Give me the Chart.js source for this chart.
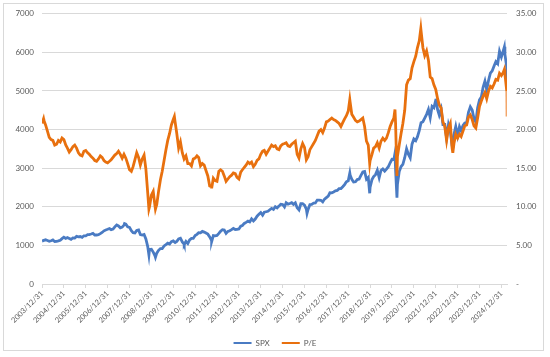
<!DOCTYPE html>
<html>
<head>
<meta charset="utf-8">
<script src="https://cdn.jsdelivr.net/npm/chart.js@4/dist/chart.umd.min.js"></script>
<style>
  html, body { margin: 0; padding: 0; background: #ffffff; }
  #wrap { position: relative; width: 550px; height: 357px; }
  #frame { position: absolute; left: 3px; top: 3px; width: 539px; height: 346px; border: 1px solid #d9d9d9; pointer-events: none; }
  canvas { position: absolute; left: 0; top: 0; }
</style>
</head>
<body>
<div id="wrap">
  <canvas id="c" width="550" height="357"></canvas>
  <div id="frame"></div>
</div>
<script>
// ---- Data (month-end values, Dec 2003 .. Mar 2025) ----
const firstMonth = [2003, 12];
const spxMonthly = [
  1112,
  1131,1145,1126,1107,1121,1141,1102,1104,1115,1130,1174,1212,
  1181,1204,1181,1157,1192,1191,1234,1220,1229,1207,1249,1248,
  1280,1281,1295,1311,1270,1270,1277,1304,1336,1378,1401,1418,
  1438,1407,1421,1482,1531,1503,1455,1474,1527,1549,1481,1468,
  1379,1331,1323,1386,1400,1280,1267,1283,1166,969,896,903,
  826,735,798,873,919,919,987,1021,1057,1036,1096,1115,
  1074,1104,1169,1187,1089,1031,1102,1049,1141,1183,1181,1258,
  1286,1327,1326,1364,1345,1321,1292,1219,1131,1253,1247,1258,
  1312,1366,1408,1398,1310,1362,1379,1407,1441,1412,1416,1426,
  1498,1515,1569,1598,1631,1606,1686,1633,1682,1757,1806,1848,
  1783,1859,1872,1884,1924,1960,1931,2003,1972,2018,2068,2059,
  1995,2105,2068,2086,2107,2063,2104,1972,1920,2079,2080,2044,
  1940,1932,2060,2065,2097,2099,2174,2171,2168,2126,2199,2239,
  2279,2364,2363,2384,2412,2423,2470,2472,2519,2575,2648,2674,
  2824,2714,2641,2648,2705,2718,2816,2902,2914,2712,2760,2507,
  2704,2784,2834,2946,2752,2942,2980,2926,2977,3038,3141,3231,
  3226,2954,2585,2912,3044,3100,3271,3500,3363,3270,3622,3756,
  3714,3811,3973,4181,4204,4298,4395,4523,4308,4605,4567,4766,
  4516,4374,4530,4132,4132,3785,4130,3955,3586,3872,4080,3840,
  4077,3970,4109,4169,4180,4450,4589,4508,4288,4194,4568,4770,
  4846,5096,5254,5036,5278,5460,5522,5648,5762,5705,6032,5882,
  6041,5955,5612
];
const peMonthly = [
  20.8,
  21.2,20.6,19.8,19.0,18.7,18.6,18.0,18.1,18.6,18.4,18.9,18.7,
  18.0,17.6,17.1,17.4,17.8,18.0,17.6,17.0,16.7,16.6,17.2,17.3,
  17.0,16.8,16.5,16.3,16.0,15.9,16.2,16.6,16.4,16.0,15.8,15.7,
  15.9,16.1,16.4,16.7,16.9,17.2,16.8,16.3,16.8,16.3,15.6,14.8,
  14.6,15.2,16.1,17.0,16.4,15.4,16.2,16.7,14.9,11.8,10.0,11.5,
  12.0,10.2,10.3,12.0,13.5,14.6,16.0,17.4,18.6,19.5,20.6,21.3,
  21.0,19.5,17.6,18.4,17.0,16.2,16.6,15.6,15.6,15.3,16.2,16.3,
  16.6,16.4,15.3,15.6,15.4,14.7,14.0,12.7,12.6,13.7,13.4,13.3,
  14.6,14.8,14.6,14.0,13.3,13.6,13.9,14.1,14.4,14.3,13.8,13.6,
  14.5,14.8,15.1,15.4,15.8,15.6,15.8,15.2,15.5,16.0,16.2,16.8,
  17.2,17.3,16.8,17.2,17.6,18.0,17.8,17.9,17.5,17.4,17.9,18.1,
  18.2,18.3,17.9,17.8,18.1,18.3,18.5,16.8,16.3,17.5,18.2,17.7,
  16.1,16.5,17.4,17.8,18.2,18.6,19.2,19.8,20.0,19.6,20.2,21.0,
  21.1,21.3,21.5,21.3,21.2,21.0,20.8,20.4,20.9,21.4,21.8,22.4,
  23.6,22.0,21.6,21.2,21.0,21.1,21.3,21.5,20.4,18.5,18.0,16.0,
  16.8,17.6,17.8,18.3,17.6,18.5,18.9,18.6,18.9,19.6,20.4,21.0,
  21.5,20.8,16.5,18.0,19.5,20.8,22.5,25.8,26.4,26.6,28.0,28.8,
  29.5,30.6,31.5,32.8,30.6,29.6,30.2,29.0,26.8,26.6,25.8,25.2,
  24.0,23.2,22.8,21.0,20.4,18.6,20.2,20.8,17.6,18.2,19.4,18.9,
  19.4,19.1,19.8,20.5,20.6,21.6,21.9,21.3,20.5,20.2,21.5,23.0,
  23.7,24.3,24.8,24.0,25.0,25.6,25.4,25.9,26.5,26.4,27.3,27.0,
  27.4,27.2,25.0
];
// intra-month extremes and the final observation
const spxExtremes = [
  ['2007-10-09',1565],['2008-11-20',752],['2009-03-09',690],['2010-07-02',1022],
  ['2011-10-03',1099],['2016-02-11',1829],['2018-01-26',2873],['2018-12-24',2351],
  ['2020-02-19',3386],['2020-03-23',2237],['2022-01-03',4797],['2022-10-12',3577],
  ['2025-02-19',6144],['2025-04-04',5074]
];
const peExtremes = [
  ['2004-01-26',21.4],['2008-11-20',9.7],['2009-03-09',9.7],['2010-01-19',21.7],
  ['2011-10-03',12.4],['2018-01-26',23.9],['2018-12-24',15.6],['2020-02-19',22.6],
  ['2020-03-23',14.0],['2021-04-26',33.1],['2022-10-12',17.0],['2025-02-19',27.8],
  ['2025-04-04',21.7]
];
const seriesNames = ['SPX', 'P/E'];
const leftTicks = { min: 0, max: 7000, step: 1000 };
const rightTicks = { min: 0, max: 35, step: 5 };

// ---- helpers ----
function decYear(y, m, d) {
  const start = Date.UTC(y, 0, 1);
  const end = Date.UTC(y + 1, 0, 1);
  return y + (Date.UTC(y, m - 1, d) - start + 86400000) / (end - start);
}
function parseDate(s) { const [y, m, d] = s.split('-').map(Number); return decYear(y, m, d); }
function monthEndX(i) {
  const idx = firstMonth[0] * 12 + (firstMonth[1] - 1) + i;
  const y = Math.floor(idx / 12), m = idx % 12 + 1;
  const d = new Date(Date.UTC(y, m, 0)).getUTCDate();
  return decYear(y, m, d);
}
function buildPoints(monthly, extremes) {
  const pts = monthly.map((v, i) => ({ x: monthEndX(i), y: v }));
  extremes.forEach(([s, v]) => pts.push({ x: parseDate(s), y: v }));
  pts.sort((a, b) => a.x - b.x);
  return pts;
}
const spxPts = buildPoints(spxMonthly, spxExtremes);
const pePts = buildPoints(peMonthly, peExtremes);
const xMin = spxPts[0].x;
const xMax = Math.max(spxPts[spxPts.length - 1].x, pePts[pePts.length - 1].x);

const BLUE = '#4A7BC3';
const ORANGE = '#E8700E';
const TXT = '#595959';
const GRID = '#d9d9d9';
const FONT = { family: 'Lato, "Open Sans", sans-serif', size: 8 };
const XFONT = { family: 'Lato, "Open Sans", sans-serif', size: 7.5 };

new Chart(document.getElementById('c'), {
  type: 'line',
  data: {
    datasets: [
      { label: seriesNames[0], data: spxPts, yAxisID: 'y', borderColor: BLUE, backgroundColor: BLUE,
        borderWidth: 2.8, pointRadius: 0, tension: 0, order: 1 },
      { label: seriesNames[1], data: pePts, yAxisID: 'y1', borderColor: ORANGE, backgroundColor: ORANGE,
        borderWidth: 2.8, pointRadius: 0, tension: 0, order: 0,
        segment: { borderColor: ctx => ctx.p1DataIndex === pePts.length - 1 ? '#F2A66B' : undefined } }
    ]
  },
  options: {
    responsive: false,
    animation: false,
    layout: { padding: { top: 13, bottom: 0, left: 0, right: 0 } },
    plugins: {
      tooltip: { enabled: false },
      legend: {
        position: 'bottom',
        labels: {
          color: TXT, font: FONT, boxWidth: 18, boxHeight: 2, padding: 12,
          sort: (a, b) => a.datasetIndex - b.datasetIndex,
          generateLabels: chart => Chart.defaults.plugins.legend.labels.generateLabels(chart)
            .map(it => Object.assign(it, { lineWidth: 0, fillStyle: it.strokeStyle }))
        }
      }
    },
    scales: {
      x: {
        type: 'linear', min: xMin, max: xMax,
        afterFit: s => { s.height = 43; },
        border: { display: true, color: GRID },
        grid: { drawOnChartArea: false, drawTicks: true, tickLength: 4, color: GRID },
        ticks: {
          stepSize: 1, includeBounds: false, autoSkip: false,
          minRotation: 45, maxRotation: 45, color: TXT, font: XFONT, padding: 1,
          callback: v => Math.abs(v - Math.round(v)) < 1e-6 ? (Math.round(v) - 1) + '/12/31' : null
        }
      },
      y: {
        position: 'left', min: leftTicks.min, max: leftTicks.max,
        afterFit: s => { s.width = 42; },
        border: { display: false },
        grid: { color: GRID, drawTicks: false },
        ticks: { stepSize: leftTicks.step, color: TXT, font: FONT, padding: 8, callback: v => String(v) }
      },
      y1: {
        position: 'right', min: rightTicks.min, max: rightTicks.max,
        afterFit: s => { s.width = 43; },
        border: { display: false },
        grid: { drawOnChartArea: false, drawTicks: false },
        ticks: { stepSize: rightTicks.step, color: TXT, font: FONT, padding: 9,
          callback: v => v === 0 ? '-' : v.toFixed(2) }
      }
    }
  }
});
</script>
</body>
</html>
